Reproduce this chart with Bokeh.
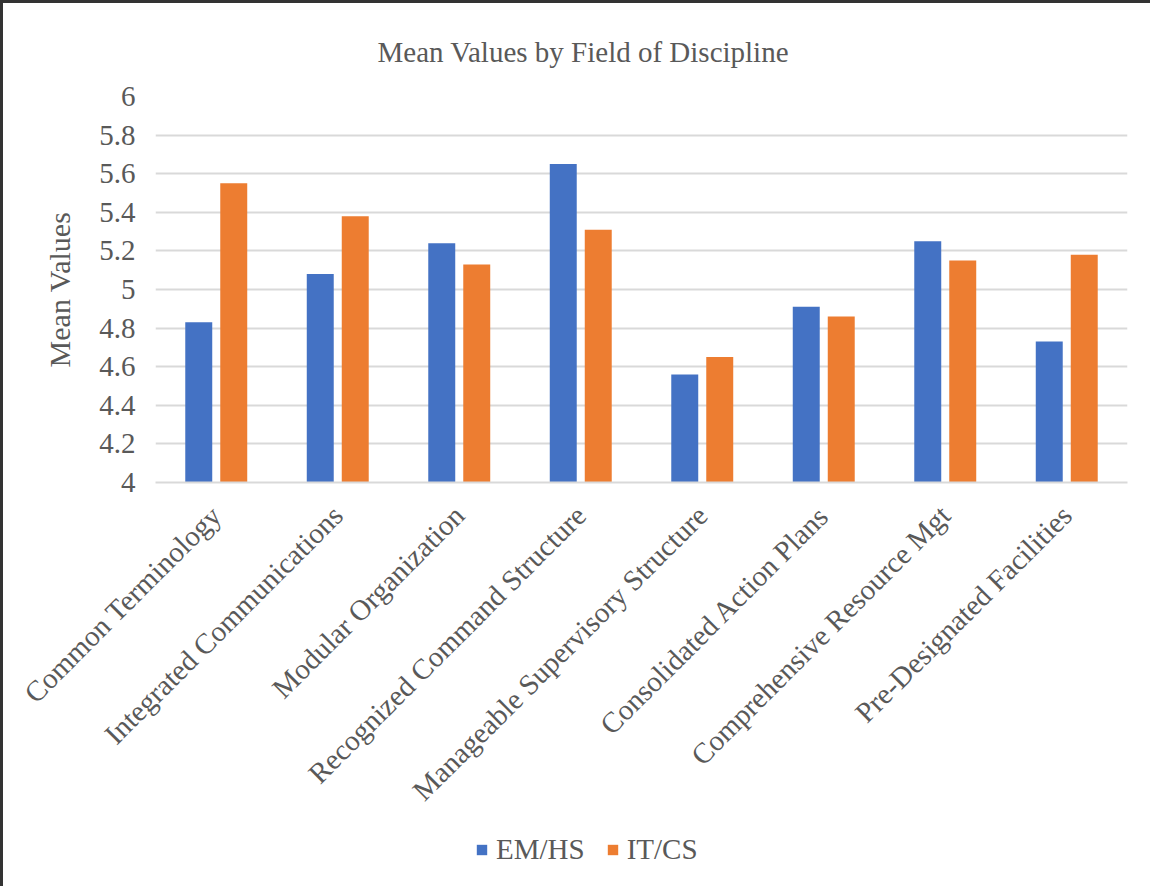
import math
from bokeh.plotting import figure
from bokeh.layouts import column
from bokeh.models import (ColumnDataSource, FactorRange, Range1d, Legend, LegendItem,
                          FixedTicker)
from bokeh.transform import dodge
from bokeh.embed import file_html
from bokeh.resources import INLINE

categories = ["Common Terminology", "Integrated Communications", "Modular Organization",
              "Recognized Command Structure", "Manageable Supervisory Structure",
              "Consolidated Action Plans", "Comprehensive Resource Mgt",
              "Pre-Designated Facilities"]
em_hs = [4.83, 5.08, 5.24, 5.65, 4.56, 4.91, 5.25, 4.73]
it_cs = [5.55, 5.38, 5.13, 5.31, 4.65, 4.86, 5.15, 5.18]
series_names = ["EM/HS", "IT/CS"]
y_ticks = [4, 4.2, 4.4, 4.6, 4.8, 5, 5.2, 5.4, 5.6, 5.8, 6]
y_tick_labels = ["4", "4.2", "4.4", "4.6", "4.8", "5", "5.2", "5.4", "5.6", "5.8", "6"]

FONT = "Liberation Serif"
TXT = "#595959"
BLUE = "#4472C4"
ORANGE = "#ED7D31"

src = ColumnDataSource(dict(cat=categories, em=em_hs, it=it_cs))
xr = FactorRange(factors=categories)

p = figure(width=1147, height=826, x_range=xr,
           y_range=Range1d(4, 6), output_backend="svg", toolbar_location=None,
           min_border_left=152, min_border_right=23, min_border_top=93,
           min_border_bottom=347)

r1 = p.vbar(x=dodge("cat", -0.144, range=xr), top="em", bottom=4, width=0.222,
            source=src, color=BLUE, line_color=None)
r2 = p.vbar(x=dodge("cat", 0.144, range=xr), top="it", bottom=4, width=0.222,
            source=src, color=ORANGE, line_color=None)

p.title.text = "Mean Values by Field of Discipline"
p.title.text_font = FONT
p.title.text_font_size = "29px"
p.title.text_font_style = "normal"
p.title.text_color = TXT
p.title.align = "left"
p.title.offset = 222
p.title.standoff = 58

p.outline_line_color = None
p.xgrid.grid_line_color = None
p.ygrid.grid_line_color = "#d9d9d9"
p.ygrid.grid_line_width = 2
p.yaxis.ticker = FixedTicker(ticks=y_ticks)
p.yaxis.major_label_overrides = {t: l for t, l in zip(y_ticks, y_tick_labels)}
p.yaxis.axis_line_color = None
p.yaxis.major_tick_line_color = None
p.yaxis.minor_tick_line_color = None
p.yaxis.major_label_standoff = 14
p.yaxis.major_label_text_font = FONT
p.yaxis.major_label_text_font_size = "29px"
p.yaxis.major_label_text_color = TXT
p.yaxis.axis_label = "Mean Values"
p.yaxis.axis_label_text_font = FONT
p.yaxis.axis_label_text_font_size = "30px"
p.yaxis.axis_label_text_font_style = "normal"
p.yaxis.axis_label_text_color = TXT
p.yaxis.axis_label_standoff = 20

p.xaxis.axis_line_color = "#d9d9d9"
p.xaxis.axis_line_width = 2
p.xaxis.major_tick_line_color = None
p.xaxis.minor_tick_line_color = None
p.xaxis.major_label_orientation = math.pi / 4
p.xaxis.major_label_standoff = 22
p.xaxis.major_label_text_font = FONT
p.xaxis.major_label_text_font_size = "29px"
p.xaxis.major_label_text_color = TXT

# legend strip below the chart: zero-width proxies of the series lie outside its
# y-range, so only the legend entries show
lp = figure(width=1147, height=57, x_range=xr, y_range=Range1d(0, 1),
            output_backend="svg", toolbar_location=None, min_border=0)
lp.axis.visible = False
lp.grid.grid_line_color = None
lp.outline_line_color = None
l1 = lp.vbar(x=dodge("cat", -0.144, range=xr), top="em", bottom=4, width=0,
             source=src, color=BLUE, line_color=None)
l2 = lp.vbar(x=dodge("cat", 0.144, range=xr), top="it", bottom=4, width=0,
             source=src, color=ORANGE, line_color=None)
legend = Legend(items=[LegendItem(label=series_names[0], renderers=[l1]),
                       LegendItem(label=series_names[1], renderers=[l2])],
                orientation="horizontal", location=(320, 20),
                label_text_font=FONT, label_text_font_size="29px",
                label_text_color=TXT, glyph_width=13, glyph_height=13,
                spacing=21, label_standoff=8, border_line_color=None,
                background_fill_alpha=0, padding=2, margin=0)
lp.add_layout(legend, "center")

layout = column(p, lp, spacing=0)
layout.styles = {"border-top": "3px solid #333333", "border-left": "3px solid #333333"}

open("out.html", "w").write(file_html(layout, INLINE))
